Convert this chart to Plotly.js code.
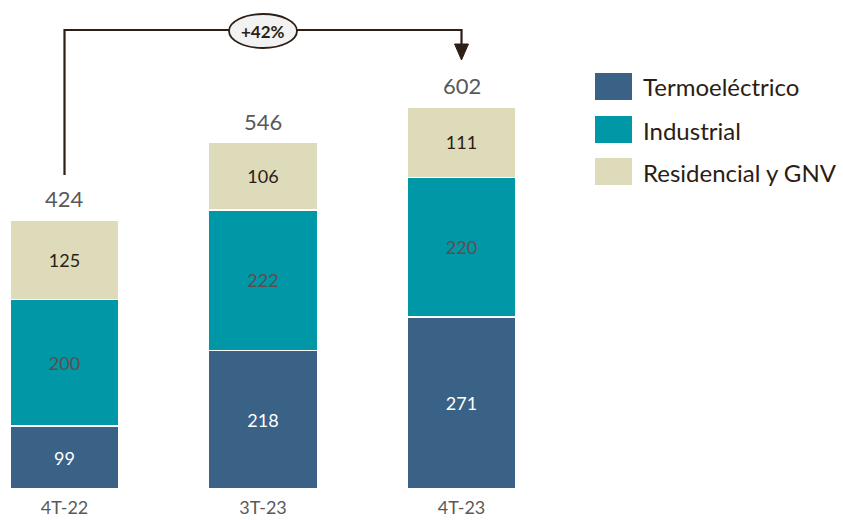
<!DOCTYPE html>
<html><head><meta charset="utf-8">
<script src="https://cdn.plot.ly/plotly-3.0.1.min.js"></script>
<style>html,body{margin:0;padding:0;background:#fff}#c{width:843px;height:520px}</style>
</head><body><div id="c"></div>
<script>
const categories = ["4T-22", "3T-23", "4T-23"];
const seriesNames = ["Termoeléctrico", "Industrial", "Residencial y GNV"];
const termoelectrico = [99, 218, 271];
const industrial = [200, 222, 220];
const residencial = [125, 106, 111];
const growthLabel = "+42%";

const colors = ["#3a6186", "#0097a6", "#dddbba"];
const textColors = ["#ffffff", "#5e4e4e", "#2b1d14"];
const FONT = "Lato, 'Open Sans', sans-serif";
const series = [termoelectrico, industrial, residencial];
const totals = categories.map((c, i) => series.reduce((s, a) => s + a[i], 0));

const traces = series.map((vals, k) => ({
  type: "bar", x: categories, y: vals, name: seriesNames[k],
  marker: {color: colors[k], line: {color: "#ffffff", width: 1.5}},
  text: vals.map(String), textposition: "inside", insidetextanchor: "middle",
  textfont: {family: FONT, size: 18, color: textColors[k]},
  constraintext: "none", hoverinfo: "skip", showlegend: false
}));

const W = 843, H = 489;
const px = p => p / W;           // paper x from pixel
const py = p => (H - p) / H;     // paper y from pixel (top margin 0)

const annotations = totals.map((t, i) => ({
  x: categories[i], y: t, xref: "x", yref: "y", text: String(t), showarrow: false,
  yanchor: "bottom", yshift: 6, font: {family: FONT, size: 22, color: "#595959"}
}));
const shapes = [];
// growth bracket
shapes.push({type: "path", xref: "x", yref: "paper",
  path: `M 0,${py(175)} L 0,${py(30)} L 2,${py(30)} L 2,${py(46)}`,
  line: {color: "#2d1e16", width: 2.2}});
shapes.push({type: "path", xref: "x", yref: "paper",
  path: `M 1.965,${py(44)} L 2.035,${py(44)} L 2,${py(60)} Z`,
  fillcolor: "#2d1e16", line: {color: "#2d1e16", width: 1}});
shapes.push({type: "circle", xref: "paper", yref: "paper",
  x0: px(229), x1: px(297), y0: py(48), y1: py(14),
  fillcolor: "#f2f2f2", line: {color: "#2d1e16", width: 1.8}});
annotations.push({x: px(263), y: py(31), xref: "paper", yref: "paper", text: "<b>" + growthLabel + "</b>",
  showarrow: false, xanchor: "center", yanchor: "middle", font: {family: FONT, size: 17, color: "#2d1e16"}});
// legend
const legTop = [73, 116, 158];
seriesNames.forEach((n, k) => {
  shapes.push({type: "rect", xref: "paper", yref: "paper",
    x0: px(595), x1: px(632), y0: py(legTop[k] + 27), y1: py(legTop[k]),
    fillcolor: colors[k], line: {width: 0}});
  annotations.push({x: px(641), y: py(legTop[k] + 14), xref: "paper", yref: "paper", text: n,
    showarrow: false, xanchor: "left", yanchor: "middle", font: {family: FONT, size: 24, color: "#2b1d14"}});
});

Plotly.newPlot("c", traces, {
  width: 843, height: 520, barmode: "stack", bargap: 0.45,
  margin: {l: 0, r: 0, t: 0, b: 31}, paper_bgcolor: "#fff", plot_bgcolor: "#fff",
  xaxis: {type: "category", range: [-0.325, -0.325 + W / 198.5], showgrid: false, zeroline: false,
    showline: false, ticks: "", ticklabelstandoff: 6, tickfont: {family: FONT, size: 18, color: "#595959"}},
  yaxis: {range: [0, H / 0.6346], visible: false, showgrid: false, zeroline: false},
  shapes: shapes, annotations: annotations
}, {staticPlot: true});
</script></body></html>
